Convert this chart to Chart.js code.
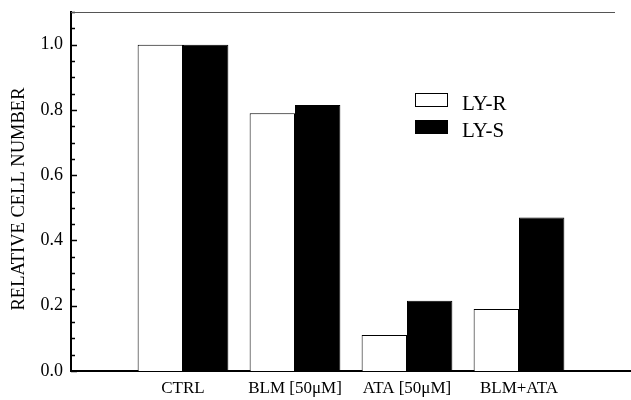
<!DOCTYPE html>
<html>
<head>
<meta charset="utf-8">
<script src="https://cdn.jsdelivr.net/npm/chart.js@4"></script>
<style>
  html, body { margin: 0; padding: 0; background: #fff; }
  #wrap { width: 631px; height: 400px; }
</style>
</head>
<body>
<div id="wrap"><canvas id="chart"></canvas></div>
<script>
// empty slots at both ends keep the groups away from the axes
const categories = ['', 'CTRL', 'BLM [50\u03BCM]', 'ATA [50\u03BCM]', 'BLM+ATA', ''];
const lyR = [null, 1.0, 0.79, 0.11, 0.19, null];
const lyS = [null, 1.0, 0.815, 0.215, 0.47, null];
const seriesNames = ['LY-R', 'LY-S'];
const yTitle = 'RELATIVE CELL NUMBER';

const serif = 'Liberation Serif';

function isMajor(v) {
    return Math.abs(v * 5 - Math.round(v * 5)) < 1e-6;
}

// inward tick marks on the y axis, axis title, thin frame line on top, legend box
const decorations = {
    id: 'decorations',
    afterDraw(chart) {
        const ctx = chart.ctx;
        const y = chart.scales.y;
        const area = chart.chartArea;
        ctx.save();

        ctx.strokeStyle = '#000';
        ctx.lineWidth = 1.5;
        y.ticks.forEach(t => {
            const py = Math.round(y.getPixelForValue(t.value)) + 0.5;
            const len = isMajor(t.value) ? 6 : 4;
            ctx.beginPath();
            ctx.moveTo(area.left, py);
            ctx.lineTo(area.left + len, py);
            ctx.stroke();
        });

        ctx.strokeStyle = '#555';
        ctx.lineWidth = 1;
        ctx.beginPath();
        ctx.moveTo(area.left, area.top + 0.5);
        ctx.lineTo(615, area.top + 0.5);
        ctx.stroke();

        ctx.save();
        ctx.translate(19, 199);
        ctx.rotate(-Math.PI / 2);
        ctx.font = '18.5px "' + serif + '"';
        ctx.textAlign = 'center';
        ctx.textBaseline = 'middle';
        ctx.fillStyle = '#000';
        ctx.fillText(yTitle, 0, 0);
        ctx.restore();

        const ds = chart.data.datasets;
        ctx.font = '21px "' + serif + '"';
        ctx.textBaseline = 'middle';
        ds.forEach((d, i) => {
            const top = 93 + i * 27;
            ctx.fillStyle = d.backgroundColor;
            ctx.fillRect(415, top, 33, 14);
            ctx.strokeStyle = '#000';
            ctx.lineWidth = 1;
            ctx.strokeRect(415.5, top + 0.5, 32, 13);
            ctx.fillStyle = '#000';
            ctx.fillText(d.label, 462, top + 11);
        });
        ctx.restore();
    }
};

const chart = new Chart(document.getElementById('chart'), {
    type: 'bar',
    data: {
        labels: categories,
        datasets: [
            {
                label: seriesNames[0],
                data: lyR,
                backgroundColor: '#fff',
                borderColor: '#000',
                borderWidth: 1,
                categoryPercentage: 0.81,
                barPercentage: 1.0
            },
            {
                label: seriesNames[1],
                data: lyS,
                backgroundColor: '#000',
                borderColor: '#000',
                borderWidth: 1,
                categoryPercentage: 0.81,
                barPercentage: 1.0
            }
        ]
    },
    options: {
        responsive: true,
        maintainAspectRatio: false,
        animation: false,
        layout: { padding: { top: 12, right: -3, left: 0, bottom: 0 } },
        plugins: {
            legend: { display: false },
            tooltip: { enabled: false }
        },
        scales: {
            x: {
                offset: false,
                grid: { display: false, drawTicks: false },
                border: { display: true, color: '#000', width: 2 },
                ticks: {
                    autoSkip: false,
                    maxRotation: 0,
                    padding: 7,
                    color: '#000',
                    font: { family: serif, size: 17 }
                },
                afterFit(scale) {
                    scale.height = 29;
                    scale.paddingLeft = 0;
                    scale.paddingRight = 0;
                }
            },
            y: {
                min: 0,
                max: 1.1,
                grid: { display: false, drawTicks: false },
                border: { display: true, color: '#000', width: 2 },
                ticks: {
                    stepSize: 0.05,
                    autoSkip: false,
                    padding: 8,
                    color: '#000',
                    font: { family: serif, size: 18 },
                    callback: v => isMajor(v) && v < 1.05 ? v.toFixed(1) : ''
                },
                afterFit(scale) {
                    scale.width = 71;
                    scale.paddingTop = 0;
                    scale.paddingBottom = 0;
                }
            }
        }
    },
    plugins: [decorations]
});
</script>
</body>
</html>
